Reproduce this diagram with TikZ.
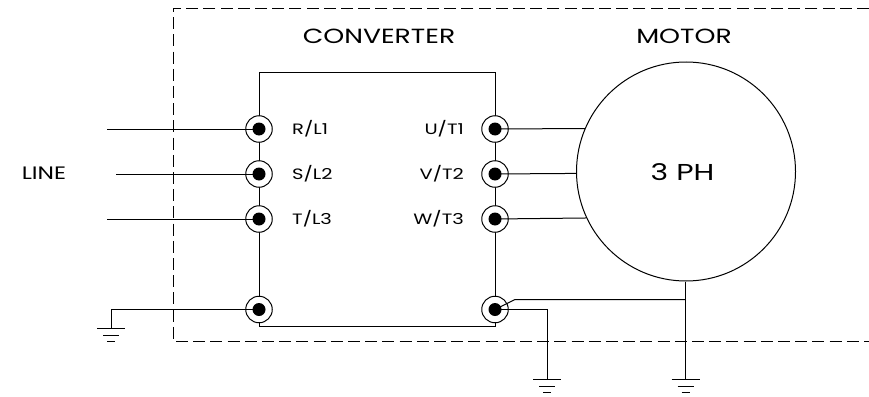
\documentclass[tikz,border=0pt]{standalone}
\usepackage{fontspec}
\setmainfont{Poppins}[FakeStretch=1.3]
\usepackage{tikz}
\tikzset{
	wire/.style={line width=1pt},
	boundary/.style={line width=0.9pt,dash pattern=on 12pt off 5.2pt},
	terminal/.style={circle,draw,line width=1pt,fill=white,minimum size=26.5pt,inner sep=0pt},
	pin/.style={circle,fill=black,minimum size=13pt,inner sep=0pt},
	tag/.style={font=\fontsize{15}{17}\selectfont,inner sep=0pt},
	title/.style={font=\fontsize{20.5}{23}\selectfont},
	ground/.pic={
		\draw[wire] (-14,0) -- (14,0);
		\draw[wire] (-8,7) -- (8,7);
		\draw[wire] (-4,13.5) -- (4,13.5);
	}
}

\begin{document}
\begin{tikzpicture}[x=1pt,y=-1pt]
	\useasboundingbox (0,0) rectangle (869,396);

	\coordinate (bl) at (869,341);
	\coordinate (bc) at (173,341);
	\coordinate (tc) at (173,8);
	\coordinate (tr) at (869,8);
	\draw[boundary] (tr) -- (tc) -- (bc) -- (bl);

	% rails behind the terminals
	\coordinate (topl) at (259,72);
	\coordinate (topr) at (495,72);
	\coordinate (botl) at (259,326.5);
	\coordinate (botr) at (495,326.5);
	\draw[wire] (botl) -- (topl) -- (topr) -- (botr) -- cycle;

	\node[terminal] (rl) at (259,129) {};
	\node[terminal] (sl) at (259,174) {};
	\node[terminal] (tl) at (259,219) {};
	\node[terminal] (el) at (259,309.5) {};
	\node[terminal] (ut) at (495,129) {};
	\node[terminal] (vt) at (495,174) {};
	\node[terminal] (wt) at (495,219) {};
	\node[terminal] (er) at (495,309.5) {};
	\foreach \term in {rl,sl,tl,el,ut,vt,wt,er}
		\node[pin] at (\term) {};

	\node[tag,anchor=west] at (292,129) {R/L1};
	\node[tag,anchor=west] at (292,174) {S/L2};
	\node[tag,anchor=west] at (292,219) {T/L3};
	\node[tag,anchor=east] at (464,129) {U/T1};
	\node[tag,anchor=east] at (464,174) {V/T2};
	\node[tag,anchor=east] at (464,219) {W/T3};

	\node[title] at (379,36) {CONVERTER};
	\node[title] at (684,36) {MOTOR};
	\node[title,font=\fontsize{18}{20}\selectfont] at (44,173.5) {LINE};

	\node[circle,draw,line width=1pt,minimum size=219pt,inner sep=0pt] (motor) at (686,171.5) {};
	\node[title,font=\fontsize{23}{25}\selectfont] (ph) at (682.5,172) {3 PH};

	% line side
	\coordinate (lr) at (107,129);
	\coordinate (ls) at (116,174);
	\coordinate (lt) at (107,219);
	\draw[wire] (lr) -- (rl.center);
	\draw[wire] (ls) -- (sl.center);
	\draw[wire] (lt) -- (tl.center);

	% motor side
	\draw[wire] (ut.center) -- (motor.157.2);
	\draw[wire] (vt.center) -- (motor.181.3);
	\draw[wire] (wt.center) -- (motor.205.7);

	% earth wiring
	\coordinate (gndl) at (111,328);
	\coordinate (gndc) at (547,379);
	\coordinate (gndm) at (685.5,379);
	\coordinate (join) at (685.5,299.5);
	\coordinate (bend) at (515,299.5);
	\coordinate (drop) at (547,309.5);
	\draw[wire] (el.center) -- (el -| gndl) -- (gndl);
	\draw[wire] (er.center) -- (drop) -- (gndc);
	\draw[wire] (er.center) -- (bend) -- (join);
	\draw[wire] (motor.south -| join) -- (gndm);
	\pic at (gndl) {ground};
	\pic at (gndc) {ground};
	\pic at (gndm) {ground};
\end{tikzpicture}
\end{document}
